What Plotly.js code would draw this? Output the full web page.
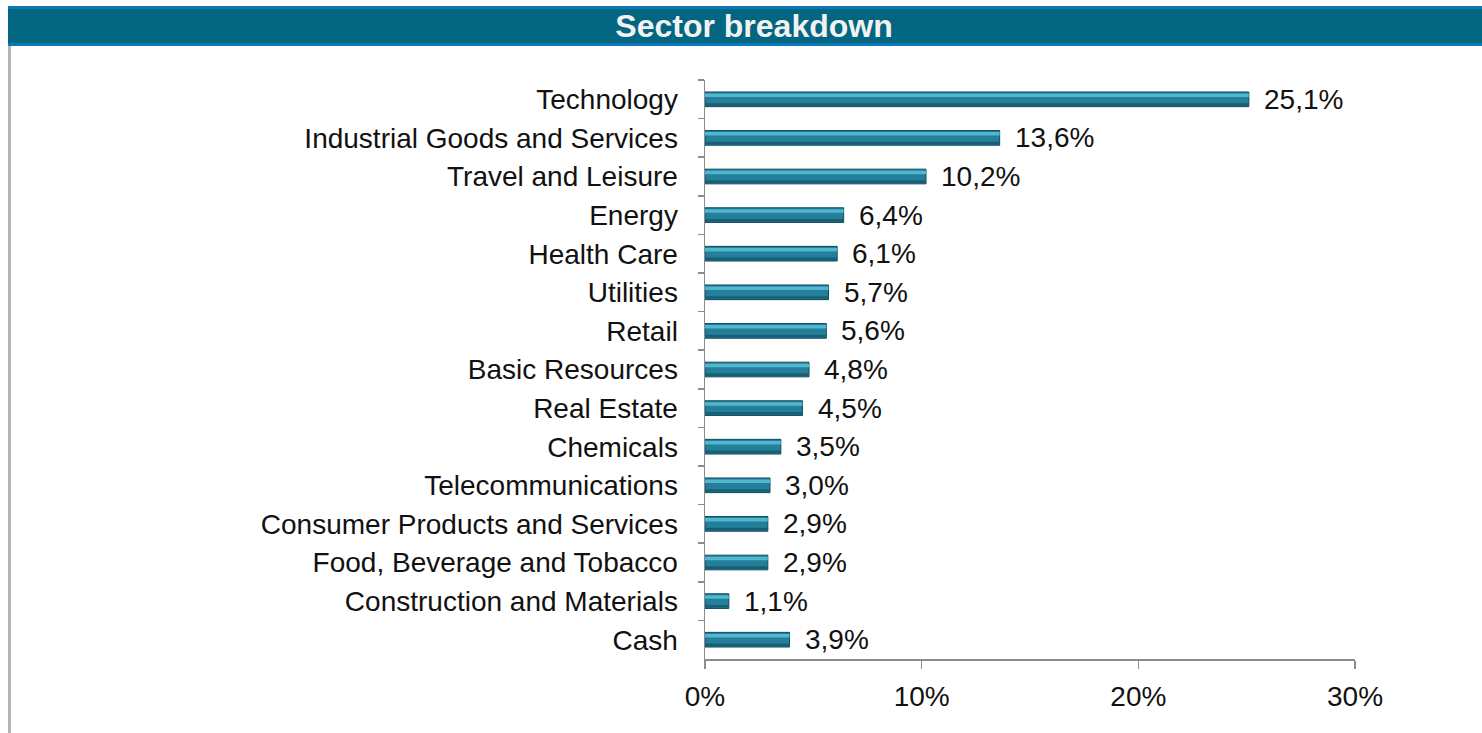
<!DOCTYPE html>
<html>
<head>
<meta charset="utf-8">
<script src="https://cdn.plot.ly/plotly-3.0.1.min.js"></script>
<style>
html,body{margin:0;padding:0;background:#fff;}
#chart{width:1482px;height:733px;}
</style>
</head>
<body>
<div id="chart"></div>
<script>
const categories = ["Technology","Industrial Goods and Services","Travel and Leisure","Energy","Health Care","Utilities","Retail","Basic Resources","Real Estate","Chemicals","Telecommunications","Consumer Products and Services","Food, Beverage and Tobacco","Construction and Materials","Cash"];
const values = [25.1,13.6,10.2,6.4,6.1,5.7,5.6,4.8,4.5,3.5,3.0,2.9,2.9,1.1,3.9];
const xTickValues = [0,10,20,30];
const chartTitle = "Sector breakdown";

const W = 1482, H = 733;
const M = {l:705, r:127, t:80, b:74};
const pw = W - M.l - M.r, ph = H - M.t - M.b;
const px = x => (x - M.l) / pw;
const py = y => (H - M.b - y) / ph;

const FONT = "Liberation Sans, Arial, sans-serif";

const base = {
  type:'bar', orientation:'h', y:categories, x:values,
  width:0.38,
  marker:{color:'#237f9a', line:{color:'#0e4c60', width:1}},
  hoverinfo:'x+y', showlegend:false
};
const hilite = {
  type:'bar', orientation:'h', y:categories, x:values,
  width:0.09, offset:-0.15,
  marker:{color:'#52b6cf', line:{width:0}},
  hoverinfo:'skip', showlegend:false
};
const shade = {
  type:'bar', orientation:'h', y:categories, x:values,
  width:0.07, offset:0.1,
  marker:{color:'#185f75', line:{width:0}},
  hoverinfo:'skip', showlegend:false
};

const annotations = categories.map((c,i)=>({
  x: values[i], y: c, xref:'x', yref:'y',
  text: values[i].toFixed(1).replace('.', ',') + '%',
  showarrow:false, xanchor:'left', xshift:13,
  font:{family:FONT, size:28, color:'#111'}
}));

const layout = {
  width:W, height:H,
  margin:M,
  paper_bgcolor:'#fff', plot_bgcolor:'#fff',
  barmode:'overlay',
  title:{text:'<b>'+chartTitle+'</b>', font:{family:FONT, size:32, color:'#f2f2f2'},
         x:754/W, xanchor:'center', xref:'container', y:1-26/H, yanchor:'middle', yref:'container'},
  xaxis:{range:[0,30], tickvals:xTickValues, ticktext:xTickValues.map(v=>v+'%'),
         showgrid:false, zeroline:false, showline:true, linecolor:'#8c8c8c', linewidth:1.5,
         ticks:'outside', ticklen:8, tickcolor:'#8c8c8c', tickwidth:1.5,
         tickfont:{family:FONT, size:28, color:'#111'}, ticklabelstandoff:4, fixedrange:true},
  yaxis:{type:'category', autorange:'reversed', showgrid:false, zeroline:false,
         showline:true, linecolor:'#8c8c8c', linewidth:1.5,
         ticks:'outside', tickson:'boundaries', ticklen:6, tickcolor:'#8c8c8c', tickwidth:1.5,
         tickfont:{family:FONT, size:28, color:'#111'}, ticklabelstandoff:20, fixedrange:true},
  annotations:annotations,
  shapes:[
    {type:'rect', xref:'paper', yref:'paper', x0:px(8), x1:px(1482), y0:py(46), y1:py(6),
     fillcolor:'#036681', line:{width:0}, layer:'below'},
    {type:'rect', xref:'paper', yref:'paper', x0:px(8), x1:px(1482), y0:py(9), y1:py(6),
     fillcolor:'#0a78b6', line:{width:0}, layer:'below'},
    {type:'rect', xref:'paper', yref:'paper', x0:px(8), x1:px(1482), y0:py(46), y1:py(43),
     fillcolor:'#0a78b6', line:{width:0}, layer:'below'},
    {type:'rect', xref:'paper', yref:'paper', x0:px(8), x1:px(11), y0:py(733), y1:py(46),
     fillcolor:'#b3b6b9', line:{width:0}, layer:'below'}
  ]
};

Plotly.newPlot('chart', [base, hilite, shade], layout, {displayModeBar:false, staticPlot:true});
</script>
</body>
</html>
